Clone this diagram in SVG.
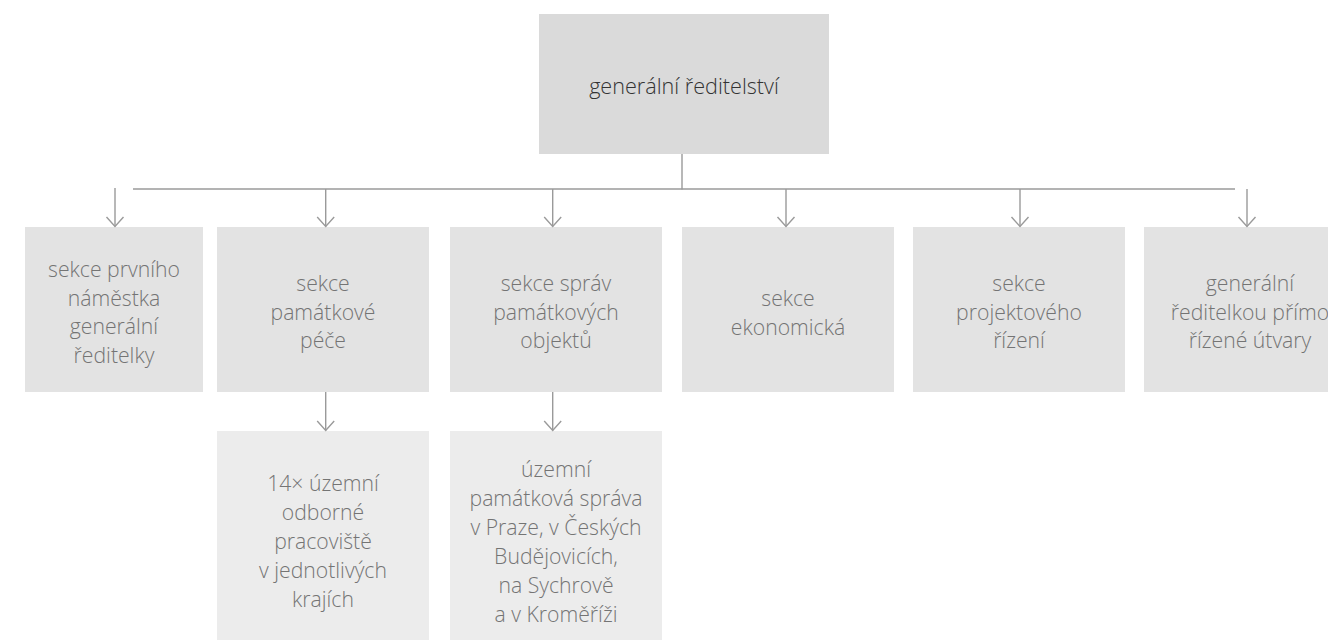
<svg xmlns="http://www.w3.org/2000/svg" width="1328" height="640" viewBox="0 0 1328 640">
<style>
  .t { font-family: "Open Sans", "Liberation Sans", sans-serif; font-weight: 300; font-size: 21.2px; fill: #747474; text-anchor: middle; }
  .top { fill: #333333; font-size: 21.6px; }
  .b0 { fill: #dadada; }
  .b1 { fill: #e3e3e3; }
  .b2 { fill: #ececec; }
  .c { stroke: #9a9a9a; stroke-width: 1.4; fill: none; }
  .a { marker-end: url(#arr); }
</style>
<defs>
  <marker id="arr" markerUnits="userSpaceOnUse" markerWidth="24" markerHeight="24" viewBox="-12 -12 24 24" refX="0" refY="0" orient="auto" overflow="visible">
    <path d="M -9.5 -8.5 L 0 0 L -9.5 8.5" fill="none" stroke="#9a9a9a" stroke-width="1.4"/>
  </marker>
</defs>
<rect width="1328" height="640" fill="#ffffff"/>

<g id="n-generalni-reditelstvi">
  <rect class="b0" x="539" y="14" width="290" height="140"/>
  <text class="t top" x="684" y="94">generální ředitelství</text>
</g>

<g id="n-sekce-prvniho-namestka">
  <rect class="b1" x="25" y="227" width="178" height="165"/>
  <text class="t" x="114"><tspan x="114" y="277">sekce prvního</tspan><tspan x="114" y="305.5">náměstka</tspan><tspan x="114" y="334">generální</tspan><tspan x="114" y="362.5">ředitelky</tspan></text>
</g>

<g id="n-sekce-pamatkove-pece">
  <rect class="b1" x="217" y="227" width="212" height="165"/>
  <text class="t" x="323"><tspan x="323" y="291">sekce</tspan><tspan x="323" y="319.5">památkové</tspan><tspan x="323" y="348">péče</tspan></text>
</g>

<g id="n-sekce-sprav">
  <rect class="b1" x="450" y="227" width="212" height="165"/>
  <text class="t" x="556"><tspan x="556" y="291">sekce správ</tspan><tspan x="556" y="319.5">památkových</tspan><tspan x="556" y="348">objektů</tspan></text>
</g>

<g id="n-sekce-ekonomicka">
  <rect class="b1" x="682" y="227" width="212" height="165"/>
  <text class="t" x="788"><tspan x="788" y="306">sekce</tspan><tspan x="788" y="334.5">ekonomická</tspan></text>
</g>

<g id="n-sekce-projektoveho-rizeni">
  <rect class="b1" x="913" y="227" width="212" height="165"/>
  <text class="t" x="1019"><tspan x="1019" y="291">sekce</tspan><tspan x="1019" y="319.5">projektového</tspan><tspan x="1019" y="348">řízení</tspan></text>
</g>

<g id="n-primo-rizene-utvary">
  <rect class="b1" x="1144" y="227" width="212" height="165"/>
  <text class="t" x="1250"><tspan x="1250" y="291">generální</tspan><tspan x="1250" y="319.5">ředitelkou přímo</tspan><tspan x="1250" y="348">řízené útvary</tspan></text>
</g>

<g id="n-uzemni-odborna-pracoviste">
  <rect class="b2" x="217" y="431" width="212" height="220"/>
  <text class="t" x="323"><tspan x="323" y="491">14× územní</tspan><tspan x="323" y="520">odborné</tspan><tspan x="323" y="549">pracoviště</tspan><tspan x="323" y="578">v jednotlivých</tspan><tspan x="323" y="607">krajích</tspan></text>
</g>

<g id="n-uzemni-pamatkova-sprava">
  <rect class="b2" x="450" y="431" width="212" height="220"/>
  <text class="t" x="556"><tspan x="556" y="477">územní</tspan><tspan x="556" y="506">památková správa</tspan><tspan x="556" y="535">v Praze, v Českých</tspan><tspan x="556" y="564">Budějovicích,</tspan><tspan x="556" y="593">na Sychrově</tspan><tspan x="556" y="622">a v Kroměříži</tspan></text>
</g>

<g id="connectors">
  <line class="c" x1="682" y1="154" x2="682" y2="189.5"/>
  <line class="c" x1="133" y1="189" x2="1235" y2="189"/>
  <line class="c a" x1="115" y1="188" x2="115" y2="226.5"/>
  <line class="c a" x1="325.7" y1="189" x2="325.7" y2="226.5"/>
  <line class="c a" x1="552.7" y1="189" x2="552.7" y2="226.5"/>
  <line class="c a" x1="786" y1="189" x2="786" y2="226.5"/>
  <line class="c a" x1="1020" y1="189" x2="1020" y2="226.5"/>
  <line class="c a" x1="1247" y1="189" x2="1247" y2="226.5"/>
  <line class="c a" x1="325.7" y1="392" x2="325.7" y2="430.5"/>
  <line class="c a" x1="552.7" y1="392" x2="552.7" y2="430.5"/>
</g>
</svg>
